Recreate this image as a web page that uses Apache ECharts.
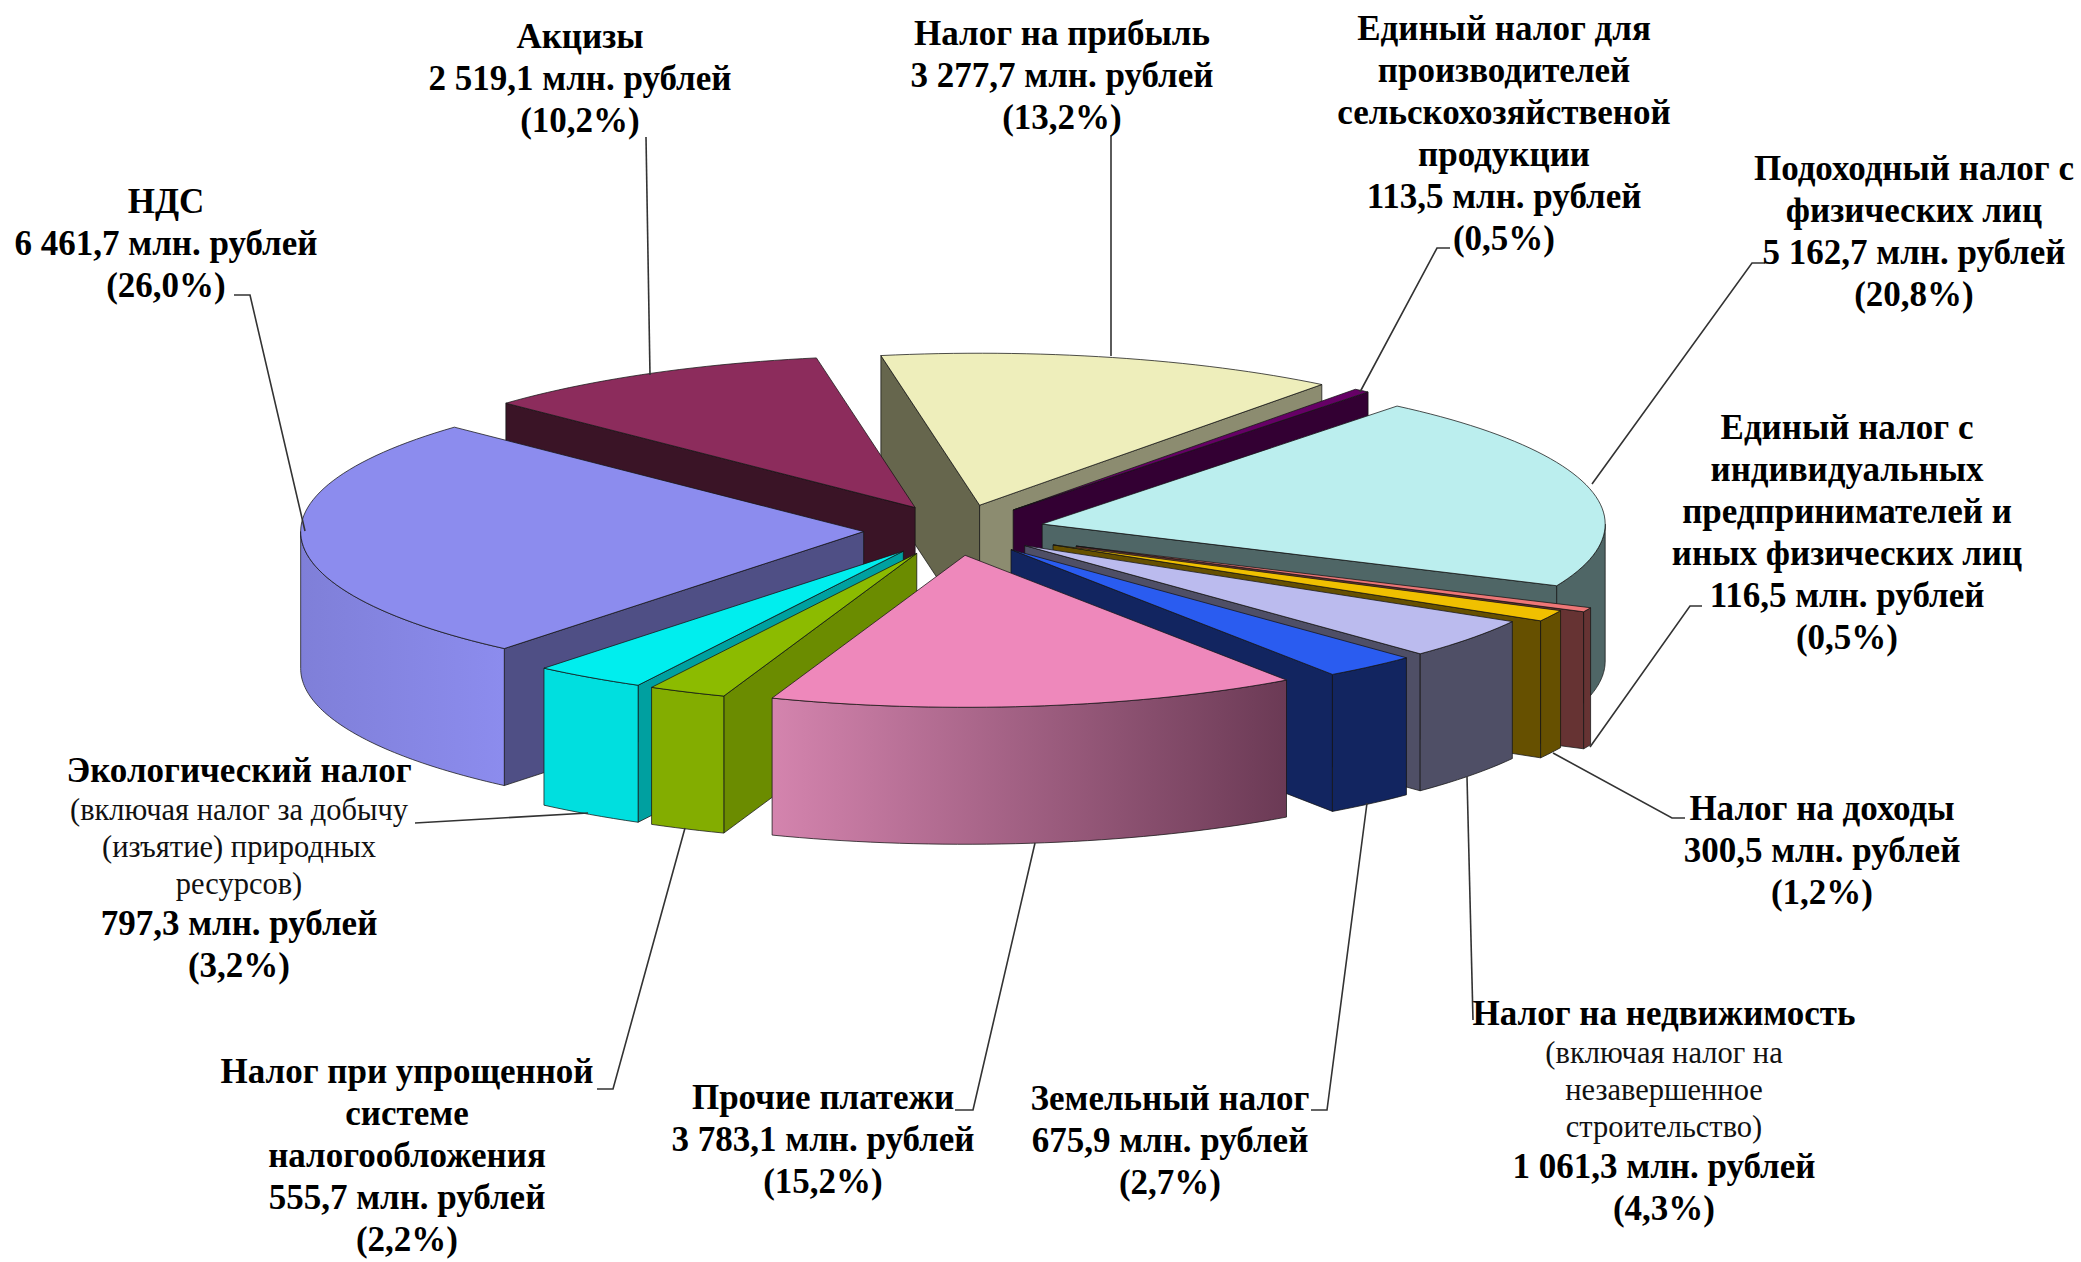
<!DOCTYPE html>
<html>
<head>
<meta charset="utf-8">
<style>html,body{margin:0;background:#fff}#chart{width:2081px;height:1262px}</style>
<script src="https://cdn.jsdelivr.net/npm/echarts@6/dist/echarts.min.js"></script>
</head>
<body>
<div id="chart"></div>
<script>
// tax receipts, million roubles, clockwise from the top
const names = [
  ['Налог на прибыль'],
  ['Единый налог для', 'производителей', 'сельскохозяйственой', 'продукции'],
  ['Подоходный налог с', 'физических лиц'],
  ['Единый налог с', 'индивидуальных', 'предпринимателей и', 'иных физических лиц'],
  ['Налог на доходы'],
  ['Налог на недвижимость'],
  ['Земельный налог'],
  ['Прочие платежи'],
  ['Налог при упрощенной', 'системе', 'налогообложения'],
  ['Экологический налог'],
  ['НДС'],
  ['Акцизы']
]
const notes = [[], [], [], [], [], ['(включая налог на', 'незавершенное', 'строительство)'], [], [], [], ['(включая налог за добычу', '(изъятие) природных', 'ресурсов)'], [], []]
const values = [3277.7, 113.5, 5162.7, 116.5, 300.5, 1061.3, 675.9, 3783.1, 555.7, 797.3, 6461.7, 2519.1]
const percents = ['13,2', '0,5', '20,8', '0,5', '1,2', '4,3', '2,7', '15,2', '2,2', '3,2', '26,0', '10,2']

// colours: top face, radial walls (start / end edge), rim from / to
const topColors = ['#eeeebb', '#660066', '#bbeeee', '#ee7777', '#f0c000', '#bbbbee', '#2a5cf0', '#ee88bb', '#8cbb00', '#00eeee', '#8c8cee', '#8c2c5c']
const wallColors = ['#66664d', '#330033', '#4f6666', '#663333', '#665000', '#4f4f66', '#122560', '#6b3a55', '#6b8c00', '#00a0a0', '#4f4f85', '#3a1426']
const wallEndColors = ['#8c8c70', '#330033', '#4f6666', '#663333', '#665000', '#4f4f66', '#122560', '#6b3a55', '#6b8c00', '#00a0a0', '#4f4f85', '#3a1426']
const rimFrom = ['#66664d', '#330033', '#4f6666', '#663333', '#665000', '#4f4f66', '#122560', '#d484ae', '#83ad00', '#00dfdf', '#7f7fd8', '#3a1426']
const rimTo = ['#66664d', '#330033', '#4f6666', '#663333', '#665000', '#4f4f66', '#122560', '#6b3a55', '#83ad00', '#00dfdf', '#8c8cee', '#3a1426']
// how far each slice is pulled out, 1 = the common distance
const explode = [1, 1, 1, 1.5, 1.25, 1, 1, 1, 1, 1, 1, 1]

// label anchors (centre x, first line top) and leader lines
const labelPos = [[1062, 12], [1504, 7], [1914, 147], [1847, 406], [1822, 787], [1664, 992], [1170, 1077], [823, 1076], [407, 1050], [239, 749], [166, 180], [580, 15]]
const leaders = [
  [[1111, 135], [1111, 356]],
  [[1450, 248], [1437, 248], [1360, 392]],
  [[1765, 263], [1752, 263], [1592, 484]],
  [[1702, 606], [1690, 606], [1590, 747]],
  [[1685, 818], [1672, 818], [1553, 753]],
  [[1473, 1020], [1467, 777]],
  [[1311, 1110], [1327, 1110], [1367, 803]],
  [[955, 1110], [973, 1110], [1035, 843]],
  [[597, 1089], [613, 1089], [685, 828]],
  [[415, 823], [588, 813]],
  [[234, 295], [250, 295], [305, 531]],
  [[646, 137], [650, 375]]
]

const startAngle = -10.1
const cx = 953.5, cy = 530
const rx = 563, ry = 152, depth = 137
const explodeX = 90, explodeY = 25.5
const backShift = 5

const total = values.reduce((a, b) => a + b, 0)
const rad = (d) => d * Math.PI / 180

// slice angles from the values
let acc = startAngle
const slices = values.map((v, i) => {
  const a0 = acc
  acc += v / total * 360
  return {i, a0, a1: acc, mid: (a0 + acc) / 2}
})
// painter's order, back to front
const order = slices.slice().sort((p, q) => -Math.cos(rad(p.mid)) + Math.cos(rad(q.mid)))
order.forEach((s, n) => { s.rank = n })

const fmt = (v) => {
  const [a, b] = v.toFixed(1).split('.')
  return a.replace(/\B(?=(\d{3})+$)/g, ' ') + ',' + b
}

const renderSlice = (params, api) => {
  const s = slices[api.value(0)]
  const ax = cx + explodeX * explode[s.i] * Math.sin(rad(s.mid)) + backShift * Math.max(0, Math.cos(rad(s.mid)))
  const ay = cy - explodeY * explode[s.i] * Math.cos(rad(s.mid))
  const rim = (a, dz) => api.coord([ax + rx * Math.sin(rad(a)), ay - ry * Math.cos(rad(a)) + dz])
  const apex = (dz) => api.coord([ax, ay + dz])
  const line = 'rgba(20,20,20,0.75)'
  const kids = []
  const n = Math.max(2, Math.ceil((s.a1 - s.a0) / 1.5))
  const arc = (from, to, dz) => {
    const pts = []
    for (let k = 0; k <= n; k++) pts.push(rim(from + (to - from) * k / n, dz))
    return pts
  }
  const wall = (a, fill) => ({
    type: 'polygon',
    z2: s.rank * 4 + 1,
    shape: {points: [apex(0), rim(a, 0), rim(a, depth), apex(depth)]},
    style: {fill, stroke: line, lineWidth: 1}
  })
  // only the faces turned towards the viewer
  if (Math.sin(rad(s.a0)) < 0) kids.push(wall(s.a0, wallColors[s.i]))
  if (Math.sin(rad(s.a1)) > 0) kids.push(wall(s.a1, wallEndColors[s.i]))
  const lo = Math.max(s.a0, 90), hi = Math.min(s.a1, 270)
  if (hi > lo) {
    kids.push({
      type: 'polygon',
      z2: s.rank * 4 + 2,
      shape: {points: arc(lo, hi, 0).concat(arc(hi, lo, depth))},
      style: {
        fill: {
          type: 'linear', x: 0, y: 0, x2: 1, y2: 0,
          colorStops: [{offset: 0, color: rimFrom[s.i]}, {offset: 1, color: rimTo[s.i]}]
        },
        stroke: line,
        lineWidth: 1
      }
    })
  }
  kids.push({
    type: 'polygon',
    z2: s.rank * 4 + 3,
    shape: {points: [apex(0)].concat(arc(s.a0, s.a1, 0))},
    style: {fill: topColors[s.i], stroke: line, lineWidth: 1}
  })
  return {type: 'group', children: kids}
}

const renderLeader = (params, api) => ({
  type: 'polyline',
  z2: 200,
  shape: {points: leaders[api.value(0)].map((p) => api.coord(p))},
  style: {fill: null, stroke: '#333', lineWidth: 1.6}
})

const renderLabel = (params, api) => {
  const i = api.value(0)
  const rows = names[i].map((t) => `{b|${t}}`)
    .concat(notes[i].map((t) => `{n|${t}}`))
    .concat([`{b|${fmt(values[i])} млн. рублей}`, `{b|(${percents[i]}%)}`])
  const p = api.coord(labelPos[i])
  return {
    type: 'text',
    z2: 300,
    x: p[0],
    y: p[1],
    style: {
      text: rows.join('\n'),
      align: 'center',
      verticalAlign: 'top',
      fill: '#000',
      rich: {
        b: {fontFamily: 'Liberation Serif', fontWeight: 'bold', fontSize: 35, lineHeight: 42, fill: '#000', align: 'center'},
        n: {fontFamily: 'Liberation Serif', fontSize: 30.5, lineHeight: 37, fill: '#111', align: 'center'}
      }
    }
  }
}

const idx = values.map((v, i) => [i])
const chart = echarts.init(document.getElementById('chart'), null, {renderer: 'svg'})
chart.setOption({
  backgroundColor: '#fff',
  animation: false,
  grid: {left: 0, right: 0, top: 0, bottom: 0},
  xAxis: {type: 'value', min: 0, max: 2081, show: false},
  yAxis: {type: 'value', min: 0, max: 1262, inverse: true, show: false},
  series: [
    {type: 'custom', name: 'slices', renderItem: renderSlice, data: order.map((s) => [s.i]), encode: {x: 0}, silent: true, clip: false},
    {type: 'custom', name: 'leaders', renderItem: renderLeader, data: idx, encode: {x: 0}, silent: true, clip: false},
    {type: 'custom', name: 'labels', renderItem: renderLabel, data: idx, encode: {x: 0}, silent: true, clip: false}
  ]
})
</script>
</body>
</html>
